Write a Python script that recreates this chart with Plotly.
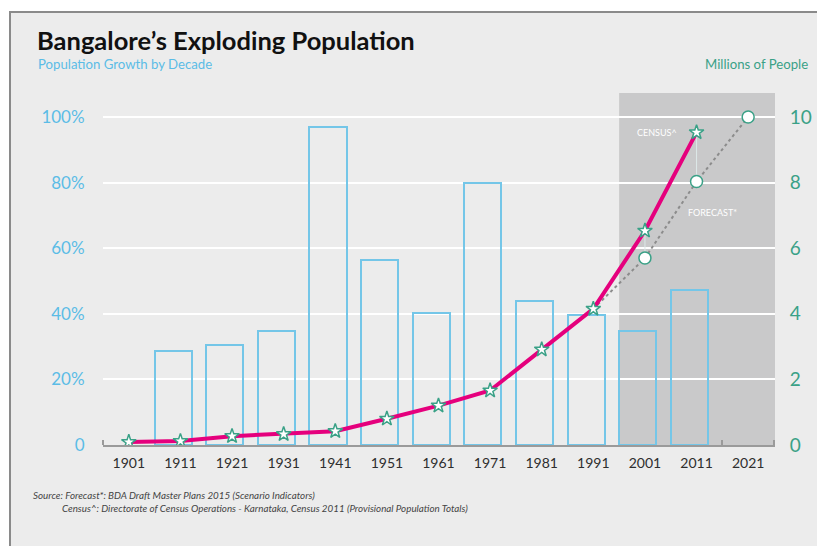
import plotly.graph_objects as go

years = [1901, 1911, 1921, 1931, 1941, 1951, 1961, 1971, 1981, 1991, 2001, 2011, 2021]
tick_labels = [str(y) for y in years]
growth_pct = [None, 28.6, 30.4, 34.6, 97.0, 56.5, 40.3, 80.0, 44.0, 39.7, 34.6, 47.1, None]
census_years = [1901, 1911, 1921, 1931, 1941, 1951, 1961, 1971, 1981, 1991, 2001, 2011]
census_millions = [0.09, 0.12, 0.27, 0.33, 0.42, 0.80, 1.20, 1.66, 2.91, 4.15, 6.53, 9.53]
forecast_years = [1991, 2001, 2011, 2021]
forecast_millions = [4.15, 5.70, 8.03, 10.0]
left_ticks = [0, 20, 40, 60, 80, 100]
left_labels = ["0", "20%", "40%", "60%", "80%", "100%"]
right_ticks = [0, 2, 4, 6, 8, 10]

FONT = "Lato"
BLUE = "#5bbce6"
TEAL = "#3aa187"
PINK = "#e5007d"

fig = go.Figure()

# growth bars (outlined)
fig.add_trace(go.Bar(
    x=years, y=growth_pct, width=7.2, offset=-5.0,
    marker=dict(color="rgba(0,0,0,0)", line=dict(color="#74c6e8", width=2)),
    yaxis="y", hoverinfo="skip", showlegend=False))

# drop lines between census and forecast values
drop_x, drop_y = [], []
for yr in [2001, 2011]:
    drop_x += [yr, yr, None]
    drop_y += [census_millions[census_years.index(yr)], forecast_millions[forecast_years.index(yr)], None]
fig.add_trace(go.Scatter(x=drop_x, y=drop_y, mode="lines", yaxis="y2",
                         line=dict(color="#dde8e8", width=1), hoverinfo="skip", showlegend=False))

# forecast dotted line
fig.add_trace(go.Scatter(x=forecast_years, y=forecast_millions, mode="lines", yaxis="y2",
                         line=dict(color="#8c8c8c", width=2, dash="dot"), showlegend=False))
# census line
fig.add_trace(go.Scatter(x=census_years, y=census_millions, mode="lines+markers", yaxis="y2",
                         line=dict(color=PINK, width=4),
                         marker=dict(symbol="star", size=11, color="white", line=dict(color=TEAL, width=1.5)),
                         showlegend=False))
# forecast markers
fig.add_trace(go.Scatter(x=forecast_years[1:], y=forecast_millions[1:], mode="markers", yaxis="y2",
                         marker=dict(symbol="circle", size=12, color="white", line=dict(color=TEAL, width=1.5)),
                         showlegend=False))

x_lo, x_hi = 1896, 2026.2
boundaries = [y - 5 for y in years] + [years[-1] + 5]

fig.update_layout(
    width=817, height=546,
    margin=dict(l=103, r=42, t=93, b=100.5),
    paper_bgcolor="white", plot_bgcolor="rgba(0,0,0,0)",
    font=dict(family=FONT),
    bargap=0,
    xaxis=dict(range=[x_lo, x_hi], tickvals=years, ticktext=tick_labels,
               ticks="outside", ticklen=4, tickcolor="rgba(0,0,0,0)",
               tickfont=dict(size=14, color="#2e2e2e"), automargin=False,
               showgrid=False, zeroline=False, showline=True, linecolor="#9a9a9a", linewidth=2,
               layer="below traces",
               minor=dict(tickmode="array", tickvals=boundaries, ticks="inside", ticklen=5,
                          tickcolor="#9a9a9a", tickwidth=2, showgrid=False)),
    yaxis=dict(range=[0, 107.3], tickvals=left_ticks, ticktext=left_labels, automargin=False,
               tickfont=dict(size=17, color=BLUE), ticks="outside", ticklen=14,
               tickcolor="rgba(0,0,0,0)", showgrid=True, gridcolor="white", gridwidth=1.5,
               zeroline=False, showline=False),
    yaxis2=dict(range=[0, 10.73], tickvals=right_ticks, overlaying="y", side="right", automargin=False,
                tickfont=dict(size=19, color=TEAL), ticks="outside", ticklen=10,
                tickcolor="rgba(0,0,0,0)", showgrid=False, zeroline=False, showline=False),
)

# page frame
fig.add_shape(type="rect", xref="paper", yref="paper",
              x0=(10 - 103) / 672, x1=2.0, y0=-1.0, y1=(445.5 - 12) / 352.5,
              fillcolor="#ececec", line=dict(color="#8a8a8a", width=2), layer="below")
# shaded census / forecast period
fig.add_shape(type="rect", xref="x", yref="y2", x0=1996, x1=x_hi, y0=0, y1=10.73,
              fillcolor="#c9c9ca", line=dict(width=0), layer="below")

def ann(text, x, y, size, color, xanchor="left", **kw):
    fig.add_annotation(text=text, x=x, y=y, xref="paper", yref="paper", showarrow=False,
                       xanchor=xanchor, yanchor="middle", font=dict(size=size, color=color, family=FONT), **kw)

def px(xp):
    return (xp - 103) / 672

def py(yp):
    return (445.5 - yp) / 352.5

ann("<b>Bangalore’s Exploding Population</b>", px(35), py(40), 25.5, "#111111")
ann("Population Growth by Decade", px(36), py(64), 13.2, BLUE)
ann("Millions of People", px(810), py(64), 13.2, TEAL, xanchor="right")
ann("<i>Source: Forecast*: BDA Draft Master Plans 2015 (Scenario Indicators)</i>", px(31), py(496), 9.8, "#444444")
ann("<i>Census^: Directorate of Census Operations - Karnataka, Census 2011 (Provisional Population Totals)</i>",
    px(60), py(509), 9.8, "#444444")

fig.add_annotation(text="CENSUS^", x=2003.4, y=9.54, xref="x", yref="y2", showarrow=False,
                   font=dict(size=9, color="white", family=FONT))
fig.add_annotation(text="FORECAST*", x=2014.0, y=7.08, xref="x", yref="y2", showarrow=False,
                   font=dict(size=9, color="white", family=FONT))

fig.write_html("out.html")
